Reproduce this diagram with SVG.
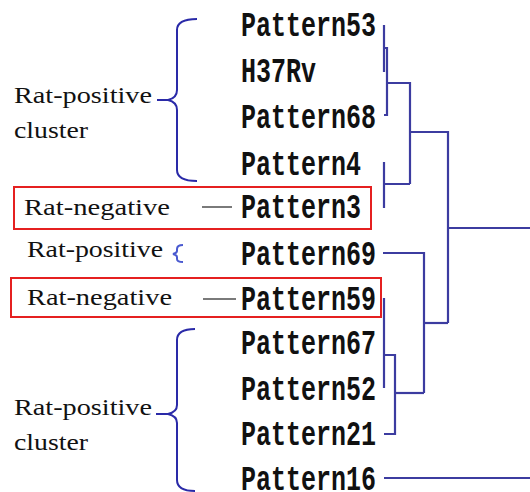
<svg xmlns="http://www.w3.org/2000/svg" width="530" height="492" viewBox="0 0 530 492">
  <style>
    .leaf { font-family: "Liberation Mono", "Courier New", monospace; font-weight: bold; font-size: 25px; fill: #111; }
    .note { font-family: "Liberation Serif", "Times New Roman", serif; font-size: 23px; fill: #111; }
    .tree { fill: none; stroke: #3c3ca0; stroke-width: 2.2; }
    .brace { fill: none; stroke: #2a2aa8; stroke-width: 2; }
    .brace-light { fill: none; stroke: #4a5ad0; stroke-width: 2; }
    .box { fill: none; stroke: #e52020; stroke-width: 2; }
    .dash { stroke: #7a7a7a; stroke-width: 2; }
  </style>
  <rect width="530" height="492" fill="#ffffff"/>

  <!-- leaf labels -->
  <g id="leaf-pattern53"><text class="leaf" transform="translate(241,36) scale(1,1.4)">Pattern53</text></g>
  <g id="leaf-h37rv"><text class="leaf" transform="translate(241,82) scale(1,1.4)">H37Rv</text></g>
  <g id="leaf-pattern68"><text class="leaf" transform="translate(241,128) scale(1,1.4)">Pattern68</text></g>
  <g id="leaf-pattern4"><text class="leaf" transform="translate(241,175) scale(1,1.4)">Pattern4</text></g>
  <g id="leaf-pattern3"><text class="leaf" transform="translate(241,218) scale(1,1.4)">Pattern3</text></g>
  <g id="leaf-pattern69"><text class="leaf" transform="translate(241,265) scale(1,1.4)">Pattern69</text></g>
  <g id="leaf-pattern59"><text class="leaf" transform="translate(241,310) scale(1,1.4)">Pattern59</text></g>
  <g id="leaf-pattern67"><text class="leaf" transform="translate(241,354) scale(1,1.4)">Pattern67</text></g>
  <g id="leaf-pattern52"><text class="leaf" transform="translate(241,400) scale(1,1.4)">Pattern52</text></g>
  <g id="leaf-pattern21"><text class="leaf" transform="translate(241,445) scale(1,1.4)">Pattern21</text></g>
  <g id="leaf-pattern16"><text class="leaf" transform="translate(241,490) scale(1,1.4)">Pattern16</text></g>

  <!-- dendrogram branches -->
  <g id="connectors" class="tree">
    <path d="M384,25 V72"/>
    <path d="M384,48 H387 V115 H384"/>
    <path d="M387,83 H410 V184"/>
    <path d="M384,162 V208 M384,184 H410"/>
    <path d="M410,132 H448 V323"/>
    <path d="M448,228 H530"/>
    <path d="M383,253 H424 V393"/>
    <path d="M424,323 H448"/>
    <path d="M384,298 V388"/>
    <path d="M384,355 H395 V434 H384"/>
    <path d="M395,393 H424"/>
    <path d="M384,478 H530"/>
  </g>

  <!-- upper rat-positive cluster -->
  <g id="group-positive-top">
    <path class="brace" d="M197,19 Q177,19 177,30 L177,90 Q177,98 168,100 Q177,102 177,110 L177,170 Q177,181 197,181"/>
    <path class="brace" d="M157,100 H168"/>
    <text class="note" x="14" y="103" textLength="138" lengthAdjust="spacingAndGlyphs">Rat-positive</text>
    <text class="note" x="14" y="138" textLength="74" lengthAdjust="spacingAndGlyphs">cluster</text>
  </g>

  <!-- first rat-negative -->
  <g id="group-negative-1">
    <rect class="box" x="14" y="187" width="357" height="42"/>
    <text class="note" x="24" y="215" textLength="146" lengthAdjust="spacingAndGlyphs">Rat-negative</text>
    <path class="dash" d="M202,207 H232"/>
  </g>

  <!-- single rat-positive -->
  <g id="group-positive-mid">
    <text class="note" x="27" y="257" textLength="136" lengthAdjust="spacingAndGlyphs">Rat-positive</text>
    <path class="brace-light" d="M183,245 Q177,245 177,249 L177,251 Q177,253 173,254 Q177,255 177,257 L177,259 Q177,262 183,262"/>
  </g>

  <!-- second rat-negative -->
  <g id="group-negative-2">
    <rect class="box" x="11" y="278" width="370" height="39"/>
    <text class="note" x="27" y="305" textLength="145" lengthAdjust="spacingAndGlyphs">Rat-negative</text>
    <path class="dash" d="M203,299 H236"/>
  </g>

  <!-- lower rat-positive cluster -->
  <g id="group-positive-bottom">
    <path class="brace" d="M195,329 Q177,329 177,340 L177,405 Q177,412 168,414 Q177,416 177,423 L177,480 Q177,491 195,491"/>
    <path class="brace" d="M156,414 H168"/>
    <text class="note" x="14" y="415" textLength="138" lengthAdjust="spacingAndGlyphs">Rat-positive</text>
    <text class="note" x="14" y="450" textLength="74" lengthAdjust="spacingAndGlyphs">cluster</text>
  </g>
</svg>
